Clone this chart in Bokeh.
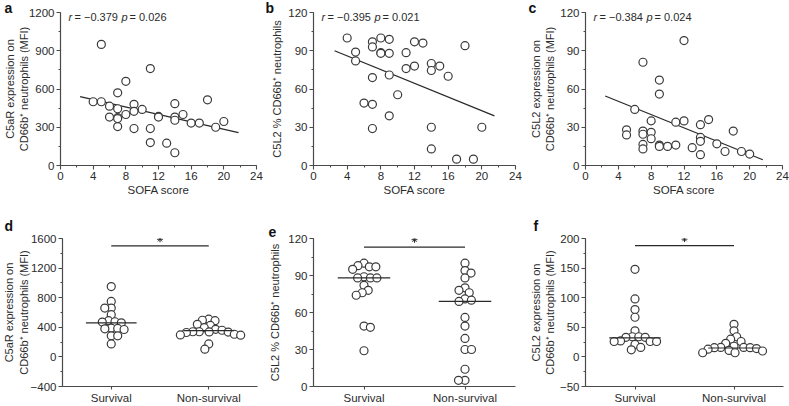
import numpy as np
from bokeh.plotting import figure
from bokeh.models import Range1d, SingleIntervalTicker, FixedTicker, Label, Title
from bokeh.layouts import column, row
from bokeh.embed import file_html
from bokeh.resources import INLINE

# ---------------- data ----------------
# (a) SOFA vs C5aR MFI
a_sofa = [5, 11, 8, 7, 14, 18, 4, 5, 6, 7, 9, 10, 9, 8, 6, 7, 7, 12, 12, 15,
          14, 14, 16, 17, 20, 19, 7, 9, 11, 11, 13, 14]
a_val = [950, 760, 660, 570, 485, 515, 500, 500, 465, 445, 480, 440, 425, 400, 380, 375, 368, 385, 380, 400,
         380, 355, 333, 333, 345, 300, 305, 290, 290, 180, 175, 100]
a_fit_x = [2.4, 21.8]
a_fit_y = [540, 258]
a_r, a_p = "\u22120.379", "0.026"

# (b) SOFA vs C5L2 % CD66b+ neutrophils
b_sofa = [4, 8, 7, 9, 12, 13, 18, 7, 5, 8, 8, 9, 11, 5, 14, 15, 12, 11, 14, 16,
          9, 7, 10, 6, 7, 9, 7, 14, 20, 14, 17, 19]
b_val = [100, 100, 97, 99, 97, 96, 94, 93, 89, 88.5, 88, 88, 88.5, 82, 80, 78, 78, 76, 74.5, 70,
         71, 69, 55.5, 49, 48, 39, 29, 30, 30, 13, 5, 5]
b_fit_x = [2.5, 21.5]
b_fit_y = [90, 39]
b_r, b_p = "\u22120.395", "0.021"

# (c) SOFA vs C5L2 MFI
c_sofa = [12, 7, 9, 9, 6, 5, 5, 7, 7, 7, 7, 8, 8, 8, 9, 9, 10, 11, 11, 12,
          13, 14, 15, 14, 14, 14, 16, 17, 18, 19, 20]
c_val = [98, 81, 67, 56, 44, 28, 24, 27, 24.5, 16.5, 13, 35, 26, 21, 16, 15, 15, 16, 34, 35,
         14, 32, 36, 22, 19, 8.5, 17, 11, 27, 11, 9]
c_fit_x = [2.4, 21.6]
c_fit_y = [54.5, 4.5]
c_r, c_p = "\u22120.384", "0.024"

groups = ["Survival", "Non-survival"]
# (d) C5aR MFI by outcome
d_surv = [950, 750, 660, 660, 570, 490, 475, 470, 460, 390, 385, 380, 370, 285, 285, 175]
d_non = [510, 495, 490, 440, 425, 395, 373, 360, 340, 340, 337, 335, 330, 306, 297, 293, 175, 105]
d_median = [460, 355]
# (e) C5L2 % by outcome
e_surv = [100, 98, 97, 97, 95, 89, 88, 88, 88, 82, 78, 76, 74, 49, 48, 29]
e_non = [100, 94, 92, 88, 80, 78, 76, 71, 70, 69, 56, 49, 39, 30, 30, 14, 5, 5]
e_median = [88, 69]
# (f) C5L2 MFI by outcome
f_surv = [148, 98, 80, 67, 44, 34, 34, 33, 33, 27, 26, 26, 26, 21, 16, 12]
f_non = [55, 44, 34, 30, 26, 23, 18, 16, 16, 15.5, 15.5, 14, 13, 11, 10, 7, 7]
f_median = [32, 15]
sig_y = [1500, 113, 188]
star_y = [1590, 119, 199]

lab_c5ar = "C5aR expression on\nCD66b\u207a neutrophils (MFI)"
lab_pct = "C5L2 % CD66b\u207a neutrophils"
lab_c5l2 = "C5L2 expression on\nCD66b\u207a neutrophils (MFI)"
x_title = "SOFA score"

# ---------------- style ----------------
FONT = "Liberation Sans"
TXT = "#2b2b2b"
AXC = "#4a4a4a"
MKC = "#3a3a3a"
MS = 8
TFS = "11.5px"


def make_panel(g, xr, yr, xticker, yticker, ylabel, ystand):
    bl = g["FL"] - g["x0"]
    br = g["x0"] + g["w"] - (g["FL"] + g["FW"])
    bt = g["FT"] - g["y0"]
    bb = g["y0"] + g["h"] - (g["FT"] + g["FH"])
    p = figure(width=g["w"], height=g["h"], x_range=Range1d(*xr), y_range=Range1d(*yr),
               min_border_left=bl, min_border_right=br, min_border_top=bt, min_border_bottom=bb,
               output_backend="svg", toolbar_location=None)
    p.xgrid.visible = False
    p.ygrid.visible = False
    p.outline_line_color = None
    p.xaxis.ticker = xticker
    p.yaxis.ticker = yticker
    for ax in (p.xaxis[0], p.yaxis[0]):
        ax.axis_line_color = AXC
        ax.axis_line_width = 1.2
        ax.major_tick_line_color = AXC
        ax.major_tick_line_width = 1.1
        ax.major_tick_in = 0
        ax.major_tick_out = 4
        ax.minor_tick_line_color = AXC
        ax.minor_tick_in = 0
        ax.minor_tick_out = 2
        ax.major_label_text_font = FONT
        ax.major_label_text_font_size = TFS
        ax.major_label_text_color = TXT
        ax.major_label_standoff = 2
        ax.axis_label_text_font = FONT
        ax.axis_label_text_font_style = "normal"
        ax.axis_label_text_color = TXT
    ya = p.yaxis[0]
    ya.axis_label = ylabel
    ya.axis_label_text_font_size = "11px"
    ya.axis_label_text_line_height = 1.2
    ya.axis_label_standoff = ystand
    return p


def add_letter(p, g, letter, px, standoff):
    p.add_layout(Title(text=letter, align="left", offset=px - g["FL"], standoff=standoff,
                       text_font=FONT, text_font_size="14px", text_font_style="bold",
                       text_color="#111111"), "above")


def swarm(vals, ppu_y, d):
    ys = np.asarray(vals, dtype=float) * ppu_y
    order = np.argsort(-ys, kind="stable")
    placed = []
    xs = np.zeros(len(ys))
    k = 0
    for i in order:
        y = ys[i]
        cands = [0.0]
        for (qx, qy) in placed:
            dy = abs(qy - y)
            if dy < d:
                dx = np.sqrt(d * d - dy * dy)
                cands += [qx + dx, qx - dx]
        sign = 1 if k % 2 == 0 else -1
        cands.sort(key=lambda c: (round(abs(c), 3), -sign * c))
        for c in cands:
            if all((c - qx) ** 2 + (y - qy) ** 2 >= d * d - 1e-6 for qx, qy in placed):
                xs[i] = c
                placed.append((c, y))
                break
        k += 1
    return xs


# ---------------- geometry (page px; the page origin is the window corner) ----------------
H1, H2 = 208, 198
geo_a = dict(x0=0, y0=0, w=263, h=H1, FL=60, FT=12, FW=196, FH=153)
geo_b = dict(x0=263, y0=0, w=263, h=H1, FL=313, FT=12, FW=202, FH=153)
geo_c = dict(x0=526, y0=0, w=263, h=H1, FL=585, FT=12, FW=197, FH=153)
geo_d = dict(x0=0, y0=H1, w=263, h=H2, FL=61, FT=238, FW=196, FH=148)
geo_e = dict(x0=263, y0=H1, w=263, h=H2, FL=313, FT=238, FW=202, FH=148)
geo_f = dict(x0=526, y0=H1, w=263, h=H2, FL=583, FT=238, FW=200, FH=148)


def scatter_panel(g, letter, lx, sofa, vals, fit_x, fit_y, r, pv, ymax, yint, ylabel, ystand):
    xr = (0, 24)
    yr = (0, ymax)
    p = make_panel(g, xr, yr, SingleIntervalTicker(interval=4, num_minor_ticks=2),
                   SingleIntervalTicker(interval=yint, num_minor_ticks=2), ylabel, ystand)
    p.xaxis.axis_label = x_title
    p.xaxis.axis_label_text_font_size = "11.5px"
    p.xaxis.axis_label_standoff = 1
    p.line(fit_x, fit_y, line_color="#2a2a2a", line_width=1.3)
    p.scatter(sofa, vals, size=MS, marker="circle", fill_color="white", line_color=MKC, line_width=1.2)
    add_letter(p, g, letter, lx, -6)
    ytxt = ymax - 4.5 / g["FH"] * ymax
    for t, style, off in (("r", "italic", 8), ("= " + r, "normal", 14),
                          ("p", "italic", 61), ("= " + pv, "normal", 69)):
        p.add_layout(Label(x=0, y=ytxt, text=t, x_offset=off, text_align="left", text_baseline="middle",
                           text_font=FONT, text_font_size="11px", text_font_style=style,
                           text_color=TXT))
    return p


def group_panel(g, letter, lx, lstand, surv, non, med, sig, star, ymin, ymax, yint, ylabel, ystand):
    xr = (0.5, 2.5)
    yr = (ymin, ymax)
    p = make_panel(g, xr, yr, FixedTicker(ticks=[1, 2]),
                   SingleIntervalTicker(interval=yint, num_minor_ticks=2), ylabel, ystand)
    p.xaxis.major_label_overrides = {1: groups[0], 2: groups[1]}
    p.xaxis.major_tick_out = 3
    if ymin < 0:
        p.yaxis.major_label_overrides = {ymin: "\u2212" + str(abs(ymin))}
    ppu_y = g["FH"] / (ymax - ymin)
    ppu_x = g["FW"] / (xr[1] - xr[0])
    for k, vals in enumerate((surv, non)):
        center = k + 1
        offs = swarm(vals, ppu_y, 6.5) / ppu_x
        p.scatter(center + offs, vals, size=MS, marker="circle", fill_color="white",
                  line_color=MKC, line_width=1.2)
        p.line([center - 0.26, center + 0.26], [med[k], med[k]], line_color="#2a2a2a", line_width=1.2)
    p.line([1, 2], [sig, sig], line_color="#2a2a2a", line_width=1.3)
    p.scatter([1.5], [star], marker="asterisk", size=6, line_color="#2a2a2a", line_width=1)
    add_letter(p, g, letter, lx, lstand)
    return p


pa = scatter_panel(geo_a, "a", 4, a_sofa, a_val, a_fit_x, a_fit_y, a_r, a_p, 1200, 300, lab_c5ar, -4)
pb = scatter_panel(geo_b, "b", 265, b_sofa, b_val, b_fit_x, b_fit_y, b_r, b_p, 120, 30, lab_pct, 2)
pc = scatter_panel(geo_c, "c", 528, c_sofa, c_val, c_fit_x, c_fit_y, c_r, c_p, 120, 30, lab_c5l2, 1)

pd_ = group_panel(geo_d, "d", 3, 10, d_surv, d_non, d_median, sig_y[0], star_y[0], -400, 1600, 400,
                  lab_c5ar, -2)
pe = group_panel(geo_e, "e", 268, 3, e_surv, e_non, e_median, sig_y[1], star_y[1], 0, 120, 30,
                 lab_pct, 4)
pf = group_panel(geo_f, "f", 531, 10, f_surv, f_non, f_median, sig_y[2], star_y[2], -50, 200, 50,
                 lab_c5l2, 1)

layout = column(row(pa, pb, pc), row(pd_, pe, pf))
open("out.html", "w").write(file_html(layout, INLINE))
